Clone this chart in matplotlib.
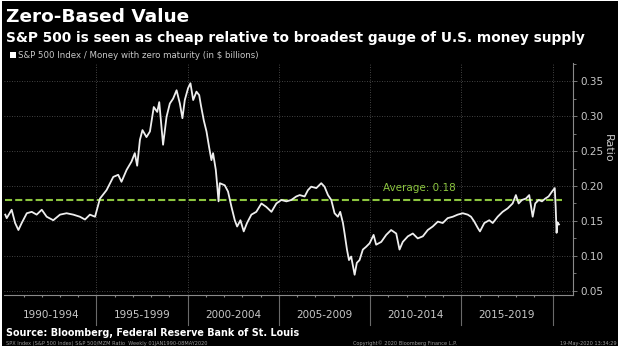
import numpy as np
import matplotlib
matplotlib.use("Agg")
import matplotlib.pyplot as plt
from matplotlib.patches import Rectangle

# S&P 500 / MZM ratio (decimal year, ratio)
years = [1990.00, 1990.08, 1990.35, 1990.54, 1990.72, 1990.90, 1991.18, 1991.45,
         1991.72, 1992.00, 1992.27, 1992.63, 1993.00, 1993.36, 1993.73, 1994.09,
         1994.37, 1994.64, 1994.92, 1995.19, 1995.55, 1995.92, 1996.19, 1996.37,
         1996.65, 1996.92, 1997.10, 1997.23, 1997.38, 1997.52, 1997.74, 1997.93,
         1998.14, 1998.33, 1998.44, 1998.56, 1998.65, 1998.84, 1999.02, 1999.20,
         1999.39, 1999.57, 1999.71, 1999.84, 2000.02, 2000.15, 2000.30, 2000.48,
         2000.63, 2000.72, 2000.88, 2001.03, 2001.17, 2001.30, 2001.39, 2001.54,
         2001.62, 2001.69, 2001.76, 2002.03, 2002.21, 2002.40, 2002.58, 2002.71,
         2002.89, 2003.07, 2003.25, 2003.49, 2003.76, 2004.04, 2004.31, 2004.59,
         2004.86, 2005.13, 2005.41, 2005.68, 2005.95, 2006.14, 2006.41, 2006.59,
         2006.77, 2007.05, 2007.32, 2007.50, 2007.69, 2007.87, 2008.05, 2008.23,
         2008.36, 2008.51, 2008.60, 2008.73, 2008.84, 2008.96, 2009.05, 2009.15,
         2009.27, 2009.42, 2009.60, 2009.78, 2009.97, 2010.19, 2010.33, 2010.61,
         2010.88, 2011.15, 2011.43, 2011.61, 2011.79, 2012.07, 2012.34, 2012.61,
         2012.89, 2013.16, 2013.43, 2013.71, 2013.98, 2014.25, 2014.53, 2014.80,
         2015.08, 2015.35, 2015.53, 2015.71, 2015.90, 2016.02, 2016.26, 2016.53,
         2016.72, 2016.99, 2017.26, 2017.54, 2017.81, 2017.99, 2018.14, 2018.32,
         2018.54, 2018.72, 2018.91, 2019.05, 2019.24, 2019.42, 2019.60, 2019.78,
         2019.97, 2020.12, 2020.17, 2020.22, 2020.27, 2020.35]
ratio = [0.159, 0.154, 0.166, 0.147, 0.137, 0.147, 0.161, 0.163,
         0.159, 0.166, 0.156, 0.151, 0.159, 0.161, 0.159, 0.156,
         0.152, 0.159, 0.156, 0.182, 0.194, 0.213, 0.216, 0.206,
         0.223, 0.235, 0.247, 0.229, 0.266, 0.280, 0.270, 0.278,
         0.313, 0.306, 0.320, 0.285, 0.259, 0.299, 0.318, 0.325,
         0.337, 0.318, 0.297, 0.323, 0.340, 0.347, 0.323, 0.335,
         0.330, 0.316, 0.294, 0.278, 0.256, 0.237, 0.247, 0.223,
         0.200, 0.178, 0.204, 0.201, 0.192, 0.170, 0.151, 0.142,
         0.151, 0.135, 0.147, 0.159, 0.163, 0.175, 0.170, 0.163,
         0.175, 0.180, 0.178, 0.180, 0.185, 0.187, 0.185, 0.194,
         0.199, 0.197, 0.204, 0.199, 0.187, 0.180, 0.161, 0.156,
         0.163, 0.147, 0.132, 0.109, 0.094, 0.099, 0.087, 0.073,
         0.090, 0.094, 0.109, 0.113, 0.118, 0.130, 0.116, 0.120,
         0.130, 0.137, 0.132, 0.109, 0.120, 0.128, 0.132, 0.125,
         0.128, 0.137, 0.142, 0.149, 0.147, 0.154, 0.156, 0.159,
         0.161, 0.159, 0.156, 0.149, 0.140, 0.135, 0.147, 0.151,
         0.147, 0.156, 0.163, 0.168, 0.175, 0.187, 0.175, 0.180,
         0.182, 0.187, 0.156, 0.175, 0.180, 0.178, 0.182, 0.185,
         0.192, 0.197, 0.170, 0.133, 0.148, 0.145]

average = 0.18
period_starts = [1990, 1995, 2000, 2005, 2010, 2015]
period_labels = ["1990-1994", "1995-1999", "2000-2004", "2005-2009", "2010-2014", "2015-2019"]
yticks = [0.05, 0.10, 0.15, 0.20, 0.25, 0.30, 0.35]

W, H = 624, 349
fig = plt.figure(figsize=(W / 100, H / 100), dpi=100, facecolor="white")
fig.patches.append(Rectangle((2 / W, 3 / H), 616 / W, 345 / H, transform=fig.transFigure,
                             facecolor="black", edgecolor="none", zorder=-10))

ax = fig.add_axes([4 / W, 1 - 295 / H, 569 / W, 232 / H])
ax.set_facecolor("black")
ax.set_xlim(1990 - 0.07, 2021.12)
ax.set_ylim(0.044, 0.376)

grid_c = "#5a5a5a"
axis_c = "#8a8a8a"
text_c = "#c8c8c8"

# grid
for v in yticks:
    ax.axhline(v, color=grid_c, lw=0.6, ls=(0, (1, 2)), zorder=1)
for y0 in period_starts[1:] + [2020]:
    ax.axvline(y0, color=grid_c, lw=0.6, ls=(0, (1, 2)), zorder=1)
    ax.plot([y0, y0], [0, -0.13], color="#6a6a6a", lw=0.8,
            transform=ax.get_xaxis_transform(), clip_on=False)

# average line + data
ax.plot([1990, 2020.5], [average, average], color="#8cc63f", lw=1.5,
        dashes=(3.4, 1.5), zorder=2)
ax.text(2010.68, 0.1965, "Average: %.2f" % average, color="#8cc63f",
        fontsize=7.5, va="center", ha="left", zorder=3)
ax.plot(years, ratio, color="#eeeeee", lw=1.3, zorder=4)

# spines / ticks
for s in ["left", "top"]:
    ax.spines[s].set_visible(False)
ax.spines["right"].set_color(axis_c)
ax.spines["bottom"].set_color(axis_c)
ax.yaxis.tick_right()
ax.set_yticks(yticks)
ax.set_yticklabels(["%.2f" % v for v in yticks])
ax.set_yticks(np.arange(0.075, 0.376, 0.05), minor=True)
ax.tick_params(axis="y", which="both", colors=axis_c, labelcolor=text_c,
               labelsize=7.5, length=3, width=0.6, pad=2)
ax.tick_params(axis="y", which="minor", length=2)
ax.set_xticks([])
ax.set_xticks(np.arange(1991, 2021), minor=True)
ax.tick_params(axis="x", which="minor", colors=axis_c, length=1.5, width=0.8)

for start, lab in zip(period_starts, period_labels):
    ax.text(start + 2.5, -0.086, lab, transform=ax.get_xaxis_transform(),
            ha="center", va="center", color=text_c, fontsize=7.5)

fig.text(608 / W, 1 - 148 / H, "Ratio", rotation=270, color=text_c, fontsize=8,
         ha="center", va="center")

# titles
fig.text(6 / W, 1 - 22 / H, "Zero-Based Value", color="white", fontsize=13.3,
         fontweight="bold", va="baseline")
fig.text(6 / W, 1 - 42 / H,
         "S&P 500 is seen as cheap relative to broadest gauge of U.S. money supply",
         color="white", fontsize=9.9, fontweight="bold", va="baseline")
fig.patches.append(Rectangle((10 / W, 1 - 58 / H), 6 / W, 6 / H, transform=fig.transFigure,
                             facecolor="white", edgecolor="none"))
fig.text(18 / W, 1 - 58 / H, "S&P 500 Index / Money with zero maturity (in $ billions)",
         color=text_c, fontsize=6.2, va="baseline")

# footer
fig.text(6 / W, 1 - 336 / H, "Source: Bloomberg, Federal Reserve Bank of St. Louis",
         color="white", fontsize=6.9, fontweight="bold", va="baseline")
fig.text(6 / W, 1 - 345 / H,
         "SPX Index (S&P 500 Index) S&P 500/MZM Ratio  Weekly 01JAN1990-08MAY2020",
         color="#9a9a9a", fontsize=3.6, va="baseline")
fig.text(405 / W, 1 - 345 / H, "Copyright\u00a9 2020 Bloomberg Finance L.P.",
         color="#9a9a9a", fontsize=3.6, va="baseline", ha="center")
fig.text(617 / W, 1 - 345 / H, "19-May-2020 13:34:29",
         color="#9a9a9a", fontsize=3.6, va="baseline", ha="right")

fig.savefig("out.png", dpi=100, facecolor=fig.get_facecolor())
